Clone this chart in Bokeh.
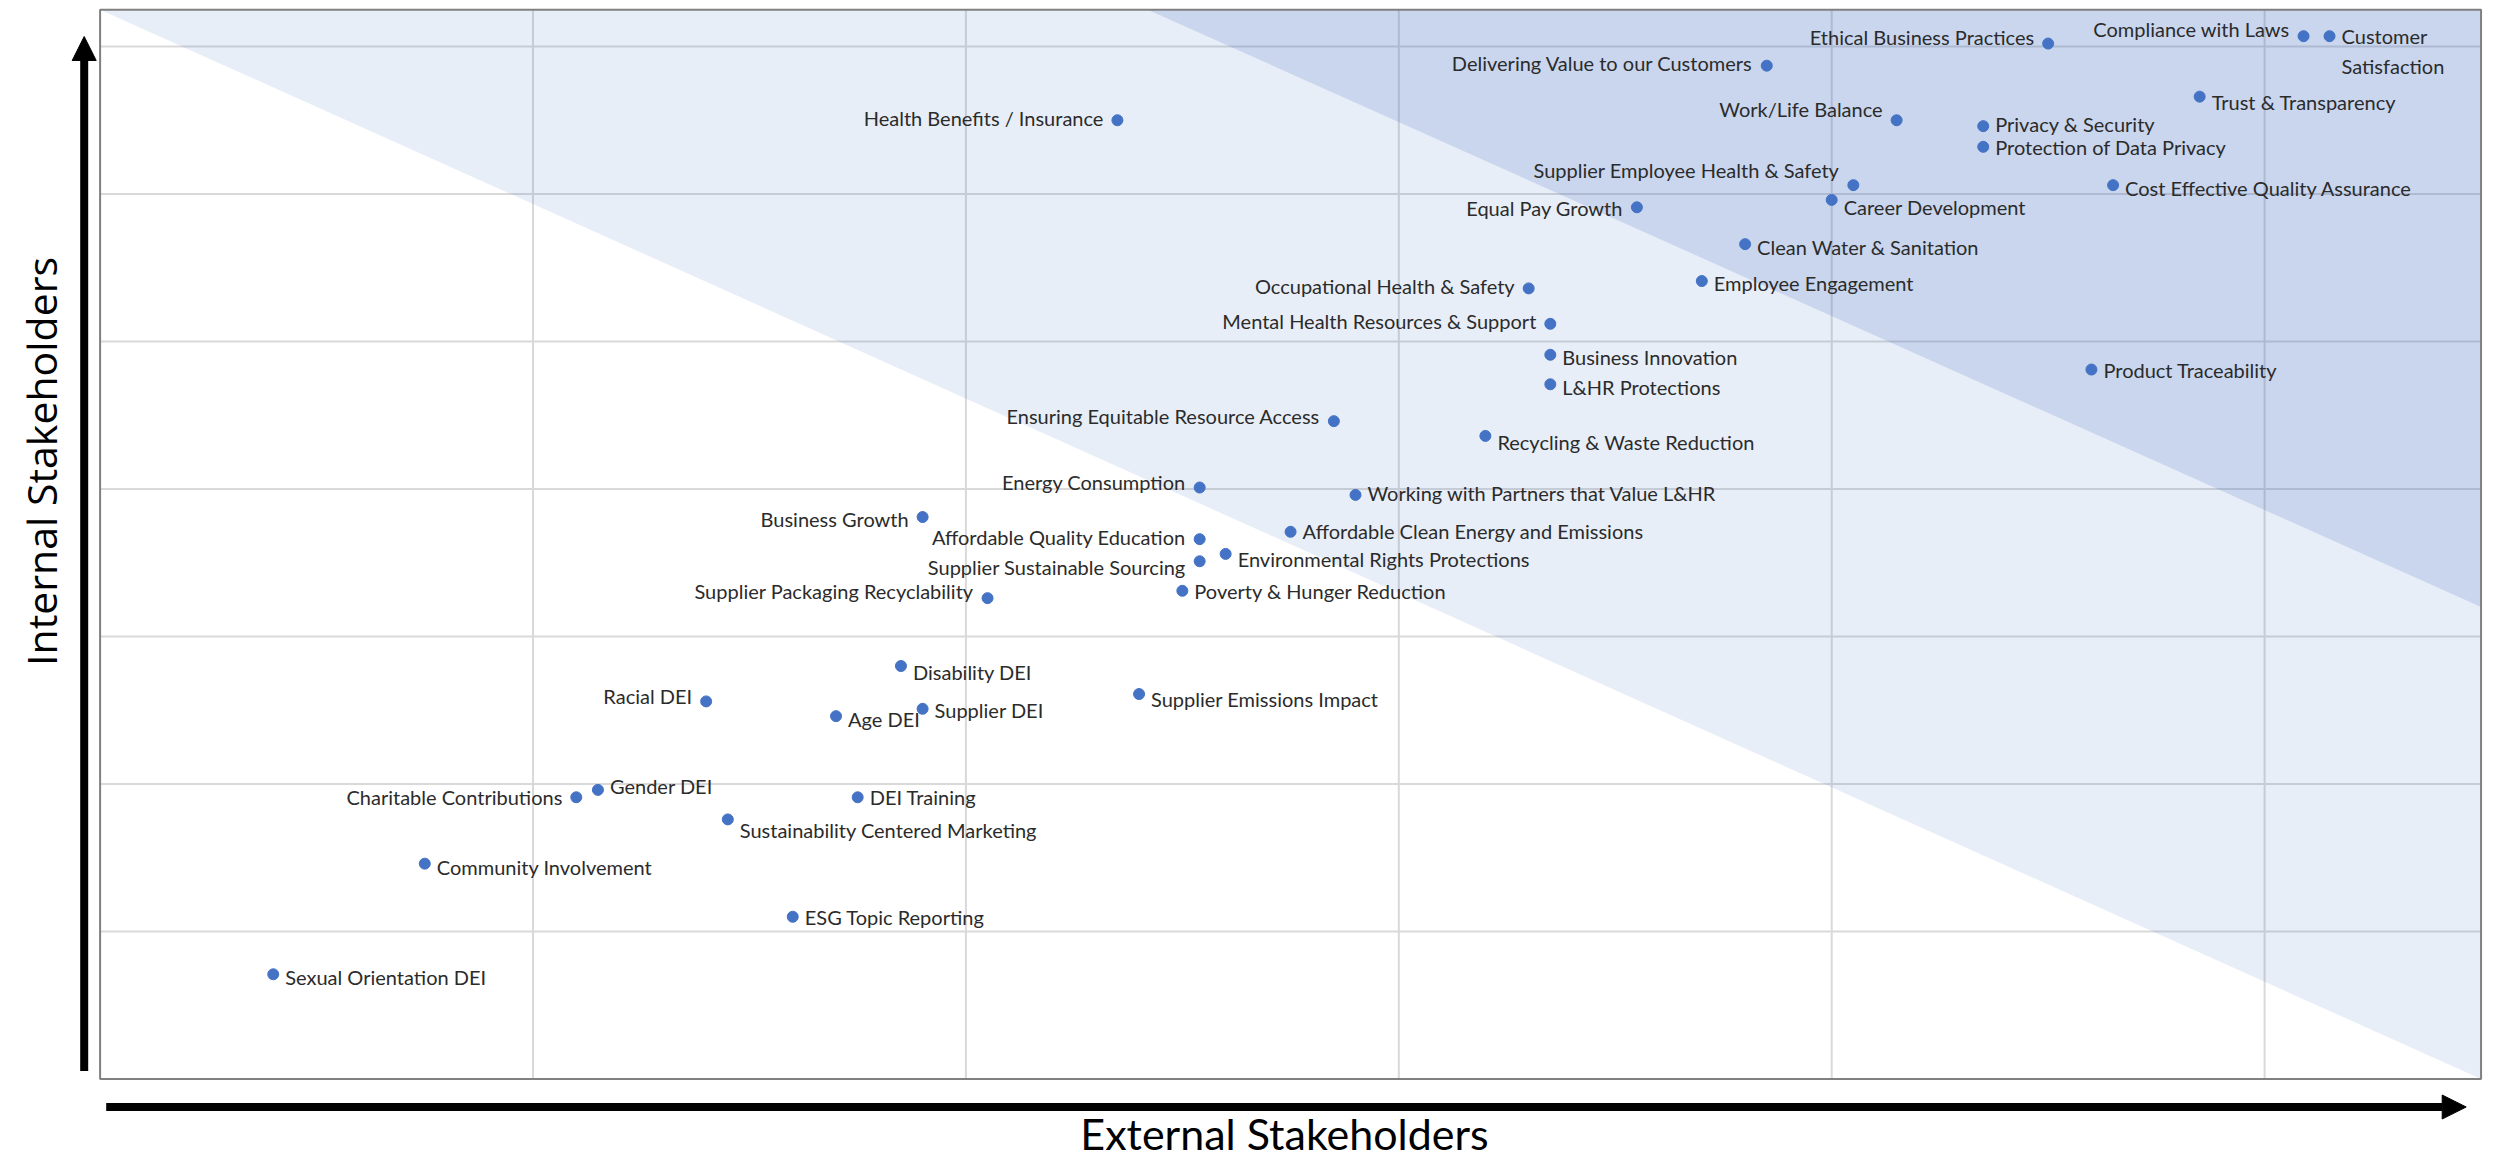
from math import pi
from bokeh.plotting import figure
from bokeh.models import Range1d, ColumnDataSource, Arrow, NormalHead, Label
from bokeh.embed import file_html
from bokeh.resources import INLINE
from bokeh.core.properties import value

# ---------------- data ----------------
topics = [
    "Compliance with Laws", "Customer Satisfaction", "Ethical Business Practices",
    "Delivering Value to our Customers", "Health Benefits / Insurance", "Work/Life Balance",
    "Privacy & Security", "Protection of Data Privacy", "Trust & Transparency",
    "Supplier Employee Health & Safety", "Cost Effective Quality Assurance", "Equal Pay Growth",
    "Career Development", "Clean Water & Sanitation", "Occupational Health & Safety",
    "Employee Engagement", "Mental Health Resources & Support", "Business Innovation",
    "L&HR Protections", "Product Traceability", "Ensuring Equitable Resource Access",
    "Recycling & Waste Reduction", "Energy Consumption", "Working with Partners that Value L&HR",
    "Business Growth", "Affordable Quality Education", "Affordable Clean Energy and Emissions",
    "Supplier Sustainable Sourcing", "Environmental Rights Protections",
    "Supplier Packaging Recyclability", "Poverty & Hunger Reduction", "Disability DEI",
    "Racial DEI", "Supplier Emissions Impact", "Age DEI", "Supplier DEI",
    "Charitable Contributions", "Gender DEI", "DEI Training",
    "Sustainability Centered Marketing", "Community Involvement", "ESG Topic Reporting",
    "Sexual Orientation DEI",
]
external = [
    5.09, 5.15, 4.50, 3.85, 2.35, 4.15, 4.35, 4.35, 4.85, 4.05, 4.65, 3.55,
    4.00, 3.80, 3.30, 3.70, 3.35, 3.35, 3.35, 4.60, 2.85, 3.20, 2.54, 2.90,
    1.90, 2.54, 2.75, 2.54, 2.60, 2.05, 2.50, 1.85, 1.40, 2.40, 1.70, 1.90,
    1.10, 1.15, 1.75, 1.45, 0.75, 1.60, 0.40,
]
internal = [
    7.07, 7.07, 7.02, 6.87, 6.50, 6.50, 6.46, 6.32, 6.66, 6.06, 6.06, 5.91,
    5.96, 5.66, 5.36, 5.41, 5.12, 4.91, 4.71, 4.81, 4.46, 4.36, 4.01, 3.96,
    3.81, 3.66, 3.71, 3.51, 3.56, 3.26, 3.31, 2.80, 2.56, 2.61, 2.46, 2.51,
    1.91, 1.96, 1.91, 1.76, 1.46, 1.10, 0.71,
]
x_ticks = [1, 2, 3, 4, 5]
y_ticks = [1, 2, 3, 4, 5, 6, 7]
X_MAX, Y_MAX = 5.5, 7.25
# corners of the shaded bands
dark_top_x, dark_right_y = 2.42, 3.20

# ---------------- label layout (side, vertical pixel nudge) ----------------
label_side = [
    "L", "R", "L", "L", "L", "L", "R", "R", "R", "L", "R", "L",
    "R", "R", "L", "R", "L", "R", "R", "R", "L", "R", "L", "R",
    "L", "L", "R", "L", "R", "L", "R", "R", "L", "R", "R", "R",
    "L", "R", "R", "R", "R", "R", "R",
]
label_dy = [
    -7, 15, -7, -3, -2, -11, -2, 0, 5, -15, 3, 1,
    7, 3, -2, 2, -3, 2, 3, 0, -5, 6, -6, -2,
    2, -2, -1, 6, 5, -7, 0, 6, -5, 5, 3, 1,
    0, -4, 0, 11, 3, 0, 3,
]
wrap = {"Customer Satisfaction": "Customer\nSatisfaction"}

# ---------------- figure geometry ----------------
W, H = 2503, 1159
X0_PX, X_UNIT = 99.6, 432.9     # canvas px of x = 0, px per unit
Y0_PX, Y_UNIT = 1078.5, 147.5   # canvas px (from top) of y = 0, px per unit

def dx(px):
    return (px - X0_PX) / X_UNIT

def dy_(py):
    return (Y0_PX - py) / Y_UNIT

p = figure(
    width=W, height=H, output_backend="svg", toolbar_location=None,
    x_range=Range1d(dx(0), dx(W)), y_range=Range1d(dy_(H), dy_(0)),
    x_axis_location=None, y_axis_location=None, min_border=0,
)
p.outline_line_color = None
p.grid.visible = False
p.background_fill_color = "white"
p.border_fill_color = "white"

# gridlines
p.segment(x0=x_ticks, y0=0, x1=x_ticks, y1=Y_MAX, line_color="#D9D9D9", line_width=2)
p.segment(x0=0, y0=y_ticks, x1=X_MAX, y1=y_ticks, line_color="#D9D9D9", line_width=2)

# shaded bands
p.patch([0, X_MAX, X_MAX], [Y_MAX, Y_MAX, 0], fill_color="#4472C4", fill_alpha=0.12, line_color=None)
p.patch([dark_top_x, X_MAX, X_MAX], [Y_MAX, Y_MAX, dark_right_y], fill_color="#4472C4",
        fill_alpha=0.19, line_color=None)

# plot frame
p.quad(left=0, right=X_MAX, bottom=0, top=Y_MAX, fill_color=None, line_color="#808080", line_width=2)

# points
src = ColumnDataSource(dict(x=external, y=internal, name=topics))
p.scatter("x", "y", source=src, size=11, fill_color="#4472C4", line_color="#4472C4")

# labels
for side, align, xoff in (("L", "right", -14), ("R", "left", 12)):
    idx = [i for i, s in enumerate(label_side) if s == side]
    s = ColumnDataSource(dict(
        x=[external[i] for i in idx], y=[internal[i] for i in idx],
        t=[wrap.get(topics[i], topics[i]) for i in idx],
        dy=[label_dy[i] for i in idx],
    ))
    p.text("x", "y", text="t", source=s, x_offset=xoff, y_offset="dy",
           text_align=align, text_baseline="middle", text_font=value("Lato"),
           text_font_size="20px", text_color="#2b2b2b", text_line_height=1.25)

# axis arrows
p.add_layout(Arrow(end=NormalHead(size=24, fill_color="black", line_color="black"),
                   x_start=dx(83.7), y_start=dy_(1070.5), x_end=dx(83.7), y_end=dy_(36),
                   line_width=8, line_color="black"))
p.add_layout(Arrow(end=NormalHead(size=24, fill_color="black", line_color="black"),
                   x_start=dx(105.7), y_start=dy_(1106.5), x_end=dx(2465.7), y_end=dy_(1106.5),
                   line_width=8, line_color="black"))

# axis titles
p.add_layout(Label(x=dx(40), y=dy_(461), text="Internal Stakeholders", angle=pi / 2,
                   text_align="center", text_baseline="middle", text_font="Open Sans",
                   text_font_size="41px", text_color="black"))
p.add_layout(Label(x=dx(1284), y=dy_(1133), text="External Stakeholders",
                   text_align="center", text_baseline="middle", text_font="Lato",
                   text_font_size="43px", text_color="black"))

open("out.html", "w").write(file_html(p, INLINE))
